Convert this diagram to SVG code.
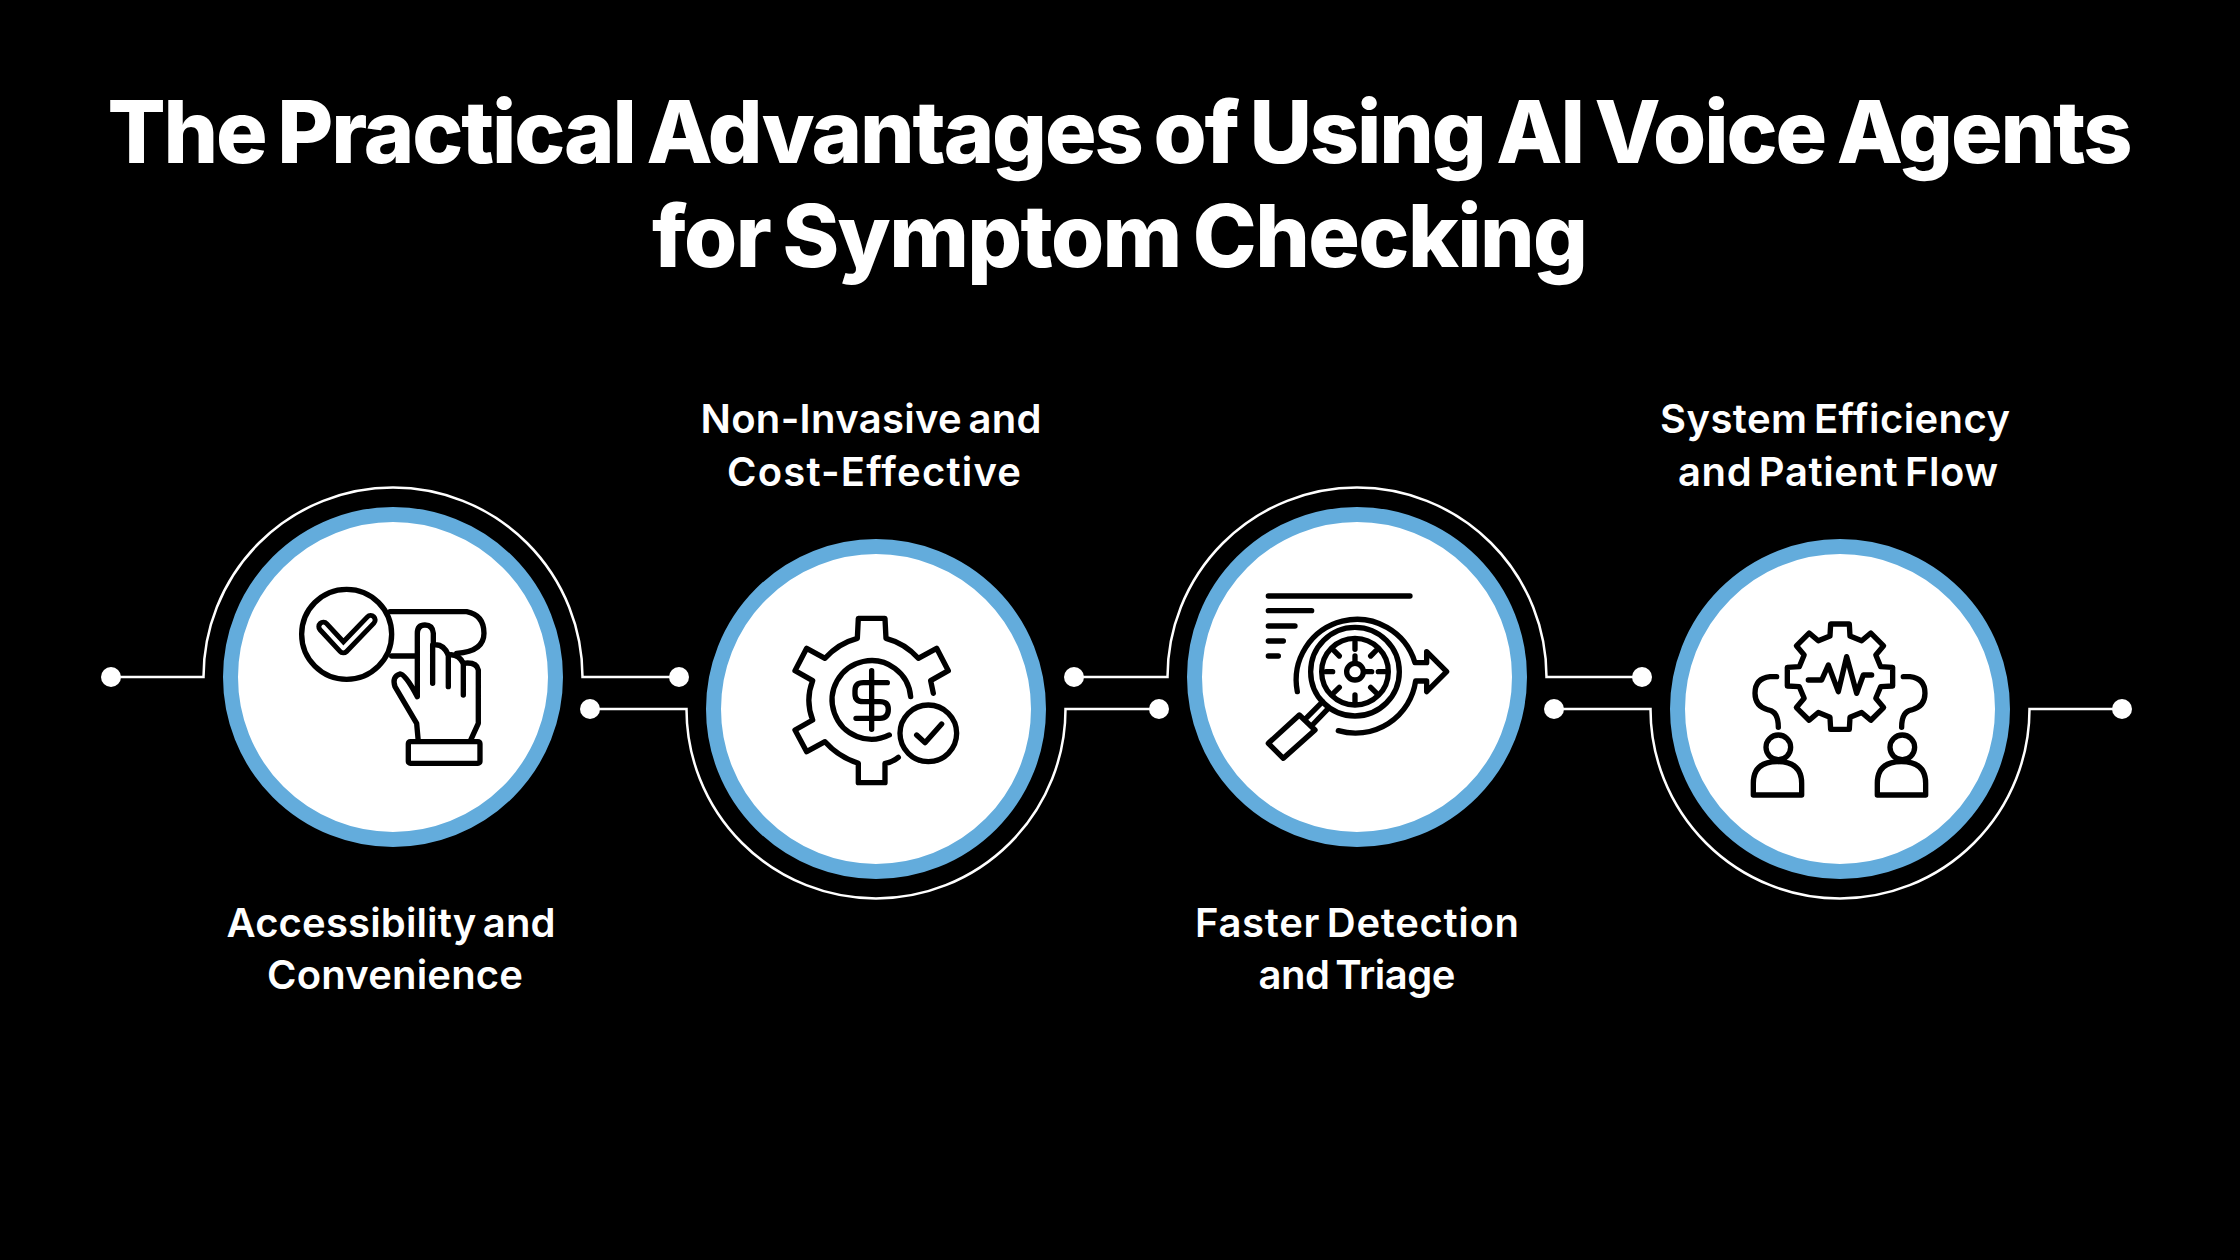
<svg xmlns="http://www.w3.org/2000/svg" width="2240" height="1260" viewBox="0 0 2240 1260">
<style>
.title{font:800 86px Inter,"Liberation Sans",sans-serif;fill:#fff;text-anchor:middle;word-spacing:-5px}
.label{font:600 40px Inter,"Liberation Sans",sans-serif;fill:#fff;text-anchor:middle;word-spacing:-4px}
.wire{fill:none;stroke:#fff;stroke-width:2.500}
.dot{fill:#fff}
.disc{fill:#fff;stroke:#63acdc;stroke-width:15}
.ic{fill:none;stroke:#000;stroke-width:16;stroke-linecap:round;stroke-linejoin:round}
.icf{fill:#fff;stroke:#000;stroke-width:16;stroke-linecap:round;stroke-linejoin:round}
</style>
<rect width="2240" height="1260" fill="#000"/>
<g id="title">
<text class="title" x="1120" y="163" textLength="2025">The Practical Advantages of Using AI Voice Agents</text>
<text class="title" x="1120" y="267" textLength="936">for Symptom Checking</text>
</g>
<g id="connectors">
<path class="wire" d="M111 677H203.500A189.500 189.500 0 0 1 582.500 677H679"/>
<path class="wire" d="M590 709H686.500A189.500 189.500 0 0 0 1065.500 709H1159"/>
<path class="wire" d="M1074 677H1167.500A189.500 189.500 0 0 1 1546.500 677H1642"/>
<path class="wire" d="M1554 709H1650.500A189.500 189.500 0 0 0 2029.500 709H2122"/>
<circle class="dot" cx="111" cy="677" r="10"/><circle class="dot" cx="679" cy="677" r="10"/>
<circle class="dot" cx="590" cy="709" r="10"/><circle class="dot" cx="1159" cy="709" r="10"/>
<circle class="dot" cx="1074" cy="677" r="10"/><circle class="dot" cx="1642" cy="677" r="10"/>
<circle class="dot" cx="1554" cy="709" r="10"/><circle class="dot" cx="2122" cy="709" r="10"/>
</g>
<g id="node-1">
<circle class="disc" cx="393" cy="677" r="162.500"/>
<g transform="translate(280 570) scale(.3333)">
<path class="ic" d="M330 125H560Q612 135 612 190T530 250M335 258H408"/>
<circle class="icf" cx="200" cy="193" r="135"/>
<path d="M130 170L190 235L272 150" fill="none" stroke="#000" stroke-width="42" stroke-linecap="round" stroke-linejoin="round"/>
<path d="M130 170L190 235L272 150" fill="none" stroke="#fff" stroke-width="12" stroke-linecap="round" stroke-linejoin="round"/>
<path class="icf" d="M412 380V190Q412 165 435 165T460 190V225Q490 220 505 255Q535 250 550 280Q590 275 595 300V460L570 515H415L410 460L345 350Q335 320 360 312Q375 310 412 380Z"/>
<path class="ic" d="M458 225V340M505 255V350M550 280V375"/>
<rect class="icf" x="385" y="515" width="215" height="65" rx="6"/>
</g>
<text class="label" x="391" y="937" textLength="329">Accessibility and</text>
<text class="label" x="395" y="989" textLength="256">Convenience</text>
</g>
<g id="node-2">
<circle class="disc" cx="876" cy="709" r="162.500"/>
<g transform="translate(770 600) scale(.3333)">
<path class="ic" d="M490 280L482 242L535 212L500 145L445 175Q405 130 348 115L345 55H265L262 115Q205 130 165 175L110 145L75 212L128 242Q105 300 128 360L75 390L110 455L165 425Q205 470 265 490V548H345V490Q365 488 385 472"/>
<path class="ic" d="M422 290A118 118 0 1 0 358 405"/>
<path class="ic" d="M352 248H280Q255 248 255 272V282Q255 305 280 305H330Q355 305 355 328Q355 355 330 355H258M305 212V388"/>
<circle class="icf" cx="475" cy="400" r="85"/>
<path class="ic" d="M440 405L465 428L515 372"/>
</g>
<text class="label" x="871" y="433" textLength="341">Non-Invasive and</text>
<text class="label" x="874" y="486" textLength="294">Cost-Effective</text>
</g>
<g id="node-3">
<circle class="disc" cx="1357" cy="677" r="162.500"/>
<g transform="translate(1250 580) scale(.3333)">
<path class="ic" d="M55 48H480M55 92H185M55 138H135M55 183H100M55 228H85"/>
<path class="ic" d="M142 335A182 182 0 0 1 495 248H530V215L590 275L530 335V303H497A182 182 0 0 1 265 452"/>
<circle class="ic" cx="315" cy="275" r="133"/>
<circle class="ic" cx="315" cy="275" r="100" stroke-width="13"/>
<circle class="ic" cx="315" cy="275" r="25"/>
<path class="ic" stroke-width="12" d="M315 185V208M315 345V368M228 275H248M385 275H405M252 212L268 228M378 212L362 228M252 338L268 322M378 338L362 322M315 228V250M342 275H365"/>
<path class="ic" d="M218 365L168 415M235 385L190 432M55 490L148 405L195 450L100 535Z"/>
</g>
<text class="label" x="1357" y="937" textLength="324">Faster Detection</text>
<text class="label" x="1357" y="989" textLength="197">and Triage</text>
</g>
<g id="node-4">
<circle class="disc" cx="1840" cy="709" r="162.500"/>
<g transform="translate(1740 610) scale(.3333)">
<path class="ic" d="M270 78L272 42H328L330 78L365 92.500L392.600 69.200L430.800 107.400L407.500 135L422 170L458 172V228L422 230L407.500 265L430.800 292.600L392.600 330.800L365 307.500L330 322L328 358H272L270 322L235 307.500L207.400 330.800L169.200 292.600L192.500 265L178 230L142 228V172L178 170L192.500 135L169.200 107.400L207.400 69.200L235 92.500Z"/>
<path class="ic" d="M205 210H245L265 165L295 245L320 140L350 250L370 195H395"/>
<path class="ic" stroke-linecap="butt" d="M110 200H90Q45 205 45 250Q45 290 85 300Q115 305 115 352M490 200H510Q555 205 555 250Q555 290 515 300Q485 305 485 352"/>
<circle class="ic" cx="115" cy="412" r="37"/>
<circle class="ic" cx="487" cy="412" r="37"/>
<path class="ic" d="M40 555V520Q40 455 112 455Q185 455 185 520V555Z"/>
<path class="ic" d="M412 555V520Q412 455 484 455Q557 455 557 520V555Z"/>
</g>
<text class="label" x="1835" y="433" textLength="350">System Efficiency</text>
<text class="label" x="1838" y="486" textLength="320">and Patient Flow</text>
</g>
</svg>
